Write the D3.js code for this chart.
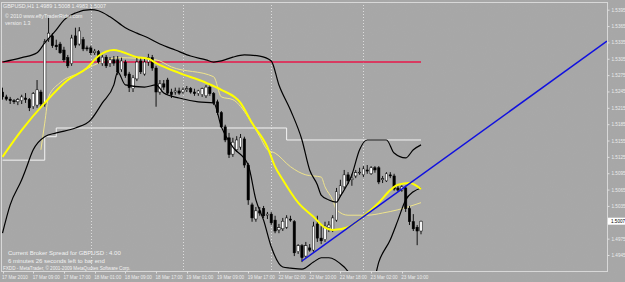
<!DOCTYPE html>
<html>
<head>
<meta charset="utf-8">
<script src="https://cdn.jsdelivr.net/npm/d3@7/dist/d3.min.js"></script>
<style>
  html, body { margin: 0; padding: 0; background: #a6a6a6; }
  svg { display: block; font-family: "Liberation Sans", Arial, sans-serif; }
</style>
</head>
<body>
<svg id="chart" width="625" height="282"></svg>
<script>
// GBPUSD H1 bars, 17 Mar 2010 01:00 onwards
var opens = [1.5244,1.5235,1.5231,1.5228,1.5226,1.5228,1.5233,1.5230,1.5217,1.5220,
  1.5244,1.5222,1.5340,1.5347,1.5330,1.5332,1.5321,1.5307,1.5296,1.5347,
  1.5332,1.5340,1.5325,1.5325,1.5316,1.5318,1.5296,1.5308,1.5296,1.5303,
  1.5303,1.5285,1.5299,1.5277,1.5250,1.5268,1.5301,1.5277,1.5299,1.5307,
  1.5288,1.5244,1.5259,1.5266,1.5244,1.5244,1.5246,1.5244,1.5248,1.5250,
  1.5244,1.5241,1.5239,1.5237,1.5253,1.5241,1.5226,1.5206,1.5180,1.5160,
  1.5130,1.5138,1.5143,1.5158,1.5110,1.5037,1.5011,1.5026,1.5030,1.5018,
  1.5020,1.5009,1.4991,1.4993,1.4996,1.5011,1.5006,1.4951,1.4962,1.4943,
  1.4958,1.4954,1.5002,1.4976,1.4973,1.4995,1.4991,1.5009,1.5055,1.5070,
  1.5092,1.5083,1.5090,1.5096,1.5092,1.5101,1.5094,1.5105,1.5105,1.5083,
  1.5081,1.5092,1.5090,1.5068,1.5064,1.5068,1.5030,1.5006,1.4996,1.4989];
var highs = [1.5252,1.5239,1.5235,1.5231,1.5233,1.5239,1.5242,1.5233,1.5244,1.5266,
  1.5248,1.5341,1.5380,1.5352,1.5340,1.5336,1.5327,1.5312,1.5349,1.5362,
  1.5363,1.5345,1.5329,1.5329,1.5323,1.5321,1.5312,1.5312,1.5308,1.5310,
  1.5310,1.5307,1.5303,1.5281,1.5275,1.5307,1.5308,1.5307,1.5314,1.5312,
  1.5292,1.5266,1.5266,1.5270,1.5250,1.5252,1.5252,1.5252,1.5255,1.5253,
  1.5250,1.5248,1.5252,1.5257,1.5257,1.5244,1.5230,1.5209,1.5184,1.5169,
  1.5160,1.5163,1.5167,1.5162,1.5114,1.5041,1.5033,1.5033,1.5035,1.5024,
  1.5024,1.5017,1.5002,1.5013,1.5018,1.5017,1.5009,1.4965,1.4965,1.4969,
  1.4965,1.5006,1.5017,1.4998,1.5006,1.5007,1.5018,1.5068,1.5083,1.5101,
  1.5097,1.5094,1.5101,1.5105,1.5108,1.5110,1.5108,1.5108,1.5108,1.5090,
  1.5097,1.5097,1.5094,1.5072,1.5073,1.5072,1.5035,1.5020,1.5000,1.5008];
var lows = [1.5230,1.5228,1.5222,1.5222,1.5220,1.5222,1.5224,1.5209,1.5213,1.5215,
  1.5217,1.5217,1.5336,1.5325,1.5321,1.5314,1.5299,1.5288,1.5292,1.5325,
  1.5329,1.5319,1.5319,1.5312,1.5312,1.5296,1.5292,1.5288,1.5290,1.5292,
  1.5275,1.5281,1.5270,1.5244,1.5244,1.5264,1.5277,1.5274,1.5292,1.5283,
  1.5217,1.5239,1.5248,1.5239,1.5233,1.5239,1.5239,1.5241,1.5244,1.5241,
  1.5237,1.5237,1.5235,1.5233,1.5237,1.5220,1.5202,1.5178,1.5152,1.5123,
  1.5125,1.5134,1.5138,1.5105,1.5037,1.5006,1.5006,1.5017,1.5013,1.5011,
  1.5000,1.4985,1.4985,1.4989,1.4993,1.5006,1.4943,1.4947,1.4932,1.4940,
  1.4951,1.4951,1.4969,1.4965,1.4969,1.4987,1.4987,1.5006,1.5052,1.5066,
  1.5075,1.5072,1.5086,1.5092,1.5088,1.5094,1.5092,1.5096,1.5075,1.5077,
  1.5079,1.5086,1.5063,1.5061,1.5061,1.5024,1.5000,1.4989,1.4963,1.4983];
var closes = [1.5235,1.5231,1.5228,1.5226,1.5230,1.5235,1.5230,1.5215,1.5241,1.5248,
  1.5222,1.5336,1.5352,1.5329,1.5327,1.5316,1.5303,1.5292,1.5343,1.5330,
  1.5356,1.5323,1.5323,1.5316,1.5319,1.5299,1.5308,1.5292,1.5303,1.5297,
  1.5281,1.5301,1.5274,1.5252,1.5270,1.5299,1.5281,1.5299,1.5307,1.5288,
  1.5244,1.5259,1.5253,1.5242,1.5239,1.5246,1.5242,1.5248,1.5250,1.5244,
  1.5241,1.5246,1.5250,1.5253,1.5241,1.5224,1.5206,1.5180,1.5156,1.5129,
  1.5152,1.5156,1.5160,1.5110,1.5046,1.5013,1.5026,1.5022,1.5017,1.5020,
  1.5004,1.4989,1.4995,1.5007,1.5013,1.5009,1.4949,1.4962,1.4940,1.4962,
  1.4954,1.4998,1.4976,1.4971,1.4998,1.5000,1.5013,1.5061,1.5072,1.5092,
  1.5081,1.5086,1.5096,1.5097,1.5103,1.5099,1.5105,1.5101,1.5079,1.5085,
  1.5094,1.5090,1.5066,1.5064,1.5070,1.5030,1.5006,1.4993,1.4989,1.5007];

// indicator lines, [bar, price]
var upperBand = [[0,1.5299],[5,1.5307],[9,1.5316],[11,1.5334],[14,1.5358],[16,1.5376],[19,1.5389],
  [23,1.5395],[25,1.5393],[28,1.5382],[32,1.5362],[35,1.5352],[38,1.5343],[41,1.5332],[45,1.5321],
  [49,1.5310],[53,1.5303],[55,1.5299],[57,1.5301],[60,1.5308],[63,1.5312],[67,1.5310],[70,1.5301],
  [72,1.5257],[75,1.5211],[78,1.5156],[80,1.5101],[82,1.5074],[83,1.5055],[85,1.5046],[87,1.5042],
  [88,1.5053],[91,1.5092],[93,1.5138],[95,1.5156],[100,1.5156],[102,1.5132],[105,1.5123],
  [107,1.5138],[109,1.5147]];
var lowerBand = [[0,1.4985],[2,1.5037],[5,1.5083],[6,1.5101],[8,1.5138],[11,1.5162],[14,1.5169],
  [19,1.5178],[23,1.5193],[26,1.5224],[29,1.5257],[30,1.5281],[32,1.5257],[37,1.5253],[40,1.5257],
  [42,1.5242],[46,1.5233],[51,1.5226],[55,1.5224],[57,1.5180],[60,1.5143],[64,1.5110],[66,1.5046],
  [68,1.5009],[70,1.4960],[73,1.4923],[75,1.4921],[78,1.4919],[81,1.4932],[83,1.4940],[85,1.4940],
  [89,1.4923],[91,1.4908],[94,1.4903],[97,1.4908],[98,1.4932],[101,1.4973],[103,1.5009],
  [105,1.5046],[107,1.5061],[109,1.5068]];
var maFast = [[0,1.5125],[5,1.5174],[11,1.5224],[17,1.5266],[22,1.5288],[25,1.5310],[29,1.5321],
  [31,1.5318],[35,1.5308],[38,1.5305],[40,1.5297],[46,1.5279],[53,1.5261],[57,1.5248],[62,1.5224],
  [65,1.5187],[69,1.5143],[71,1.5107],[73,1.5083],[77,1.5041],[81,1.5015],[84,1.4995],[86,1.4991],
  [90,1.4996],[95,1.5022],[98,1.5041],[101,1.5064],[103,1.5074],[106,1.5077],[109,1.5066]];
var maSlow = [[10,1.5138],[11,1.5187],[12,1.5235],[15,1.5261],[20,1.5279],[25,1.5297],[30,1.5307],
  [40,1.5303],[44,1.5290],[55,1.5272],[57,1.5235],[60,1.5230],[64,1.5198],[67,1.5162],[69,1.5138],
  [71,1.5132],[75,1.5107],[79,1.5092],[83,1.5088],[84,1.5070],[86,1.5046],[87,1.5028],[90,1.5018],
  [95,1.5018],[99,1.5022],[103,1.5028],[109,1.5041]];
var dailyLevel = [[0,1.5119],[11,1.5162],[14,1.5178],[74,1.5156],[109,1.5156]];
var redLevel = 1.5299;
var trendPoints = [[78,1.4934],[104,1.5066]];

var priceTicks = [1.5395,1.5365,1.5335,1.5305,1.5275,1.5245,1.5215,1.5185,
  1.5155,1.5125,1.5095,1.5065,1.5035,1.5005,1.4975,1.4945];
var gridBars = [23,47,70,94];
var timeBars = [0,8,16,24,32,40,48,56,64,72,80,88,96,104];
var timeLabels = ["17 Mar 2010","17 Mar 09:00","17 Mar 17:00","18 Mar 01:00","18 Mar 09:00",
  "18 Mar 17:00","19 Mar 01:00","19 Mar 09:00","19 Mar 17:00","22 Mar 02:00","22 Mar 10:00",
  "22 Mar 18:00","23 Mar 02:00","23 Mar 10:00"];
var titleText = "GBPUSD,H1  1.4989 1.5008 1.4983 1.5007";
var infoLines = ["Current Broker Spread for GBPUSD : 4.00", "6 minutes 26 seconds left to bar end"];
var footerText = "FXDD - MetaTrader, \u00a9 2001-2009 MetaQuotes Software Corp.";

var W = 625, H = 282;
var plotL = 1, plotT = 2, plotR = 607, plotB = 271;

var svg = d3.select("#chart");
var bars = d3.range(opens.length).map(function(i) {
    return {i: i, o: opens[i], h: highs[i], l: lows[i], c: closes[i]};
});

var x = d3.scaleLinear().domain([0, bars.length - 1]).range([2.5, 421]);
var y = d3.scaleLinear().domain([1.5395, 1.4945]).range([9.7, 255]);

var defs = svg.append("defs");
defs.append("clipPath").attr("id", "plot")
    .append("rect").attr("x", plotL).attr("y", plotT)
    .attr("width", plotR - plotL).attr("height", plotB - plotT);

// speckle like the dithered gif background
var grain = defs.append("filter").attr("id", "grain")
    .attr("x", 0).attr("y", 0).attr("width", "100%").attr("height", "100%");
grain.append("feTurbulence").attr("type", "fractalNoise")
    .attr("baseFrequency", 0.95).attr("numOctaves", 1).attr("seed", 3).attr("result", "n");
grain.append("feColorMatrix").attr("type", "matrix")
    .attr("values", "0 0 0 0 0.45  0 0 0 0 0.45  0 0 0 0 0.45  1.6 0 0 0 -0.85");

svg.append("rect").attr("width", W).attr("height", H).attr("fill", "#a7a7a7");
svg.append("rect").attr("width", W).attr("height", H).attr("filter", "url(#grain)").attr("opacity", 0.35);

// day separators
svg.append("g").selectAll("line").data(gridBars).enter().append("line")
    .attr("x1", function(d) { return Math.round(x(d)) + 0.5; })
    .attr("x2", function(d) { return Math.round(x(d)) + 0.5; })
    .attr("y1", plotT).attr("y2", plotB)
    .attr("stroke", "#dcdcdc").attr("stroke-width", 1).attr("stroke-dasharray", "1,2");

var plot = svg.append("g").attr("clip-path", "url(#plot)");

var line = d3.line()
    .x(function(d) { return x(d[0]); })
    .y(function(d) { return y(d[1]); })
    .curve(d3.curveMonotoneX);

// white daily level
plot.append("path").datum(dailyLevel)
    .attr("d", d3.line().x(function(d) { return x(d[0]); }).y(function(d) { return y(d[1]); })
        .curve(d3.curveStepAfter))
    .attr("fill", "none").attr("stroke", "#f4f4f4").attr("stroke-width", 1);

// red level
plot.append("line")
    .attr("x1", plotL).attr("x2", x(bars.length - 1))
    .attr("y1", y(redLevel)).attr("y2", y(redLevel))
    .attr("stroke", "#e8174a").attr("stroke-width", 1.5);

plot.append("path").datum(maSlow).attr("d", line)
    .attr("fill", "none").attr("stroke", "#efe48c").attr("stroke-width", 1);

// candles
var candle = plot.append("g").selectAll("g").data(bars).enter().append("g");
candle.append("line")
    .attr("x1", function(d) { return x(d.i); }).attr("x2", function(d) { return x(d.i); })
    .attr("y1", function(d) { return y(d.h); }).attr("y2", function(d) { return y(d.l); })
    .attr("stroke", "#000").attr("stroke-width", 0.9);
candle.append("rect")
    .attr("x", function(d) { return x(d.i) - 1.2; })
    .attr("width", 2.4)
    .attr("y", function(d) { return y(Math.max(d.o, d.c)); })
    .attr("height", function(d) { return Math.max(0.8, Math.abs(y(d.o) - y(d.c))); })
    .attr("fill", function(d) { return d.c >= d.o ? "#ffffff" : "#000000"; })
    .attr("stroke", "#000").attr("stroke-width", 0.5);

plot.append("path").datum(upperBand).attr("d", line)
    .attr("fill", "none").attr("stroke", "#000").attr("stroke-width", 1.2);
plot.append("path").datum(lowerBand).attr("d", line)
    .attr("fill", "none").attr("stroke", "#000").attr("stroke-width", 1.2);
plot.append("path").datum(maFast).attr("d", line)
    .attr("fill", "none").attr("stroke", "#ffff00").attr("stroke-width", 2);

// trend line, extended to the right edge
var t0 = trendPoints[0], t1 = trendPoints[1];
var slope = (t1[1] - t0[1]) / (t1[0] - t0[0]);
var endBar = x.invert(plotR);
plot.append("line")
    .attr("x1", x(t0[0])).attr("y1", y(t0[1]))
    .attr("x2", x(endBar)).attr("y2", y(t0[1] + slope * (endBar - t0[0])))
    .attr("stroke", "#1010e0").attr("stroke-width", 1.5);

// frame
svg.append("rect").attr("x", plotL + 0.5).attr("y", plotT + 0.5)
    .attr("width", plotR - plotL).attr("height", plotB - plotT)
    .attr("fill", "none").attr("stroke", "#d8d8d8").attr("stroke-width", 1);

// price axis
var yAxis = svg.append("g").attr("transform", "translate(" + (plotR + 0.5) + ",0)")
    .call(d3.axisRight(y).tickValues(priceTicks).tickFormat(d3.format(".4f")).tickSize(2).tickPadding(2));
yAxis.select(".domain").remove();
yAxis.selectAll("line").attr("stroke", "#e0e0e0");
yAxis.selectAll("text").attr("fill", "#ececec").attr("font-size", 4.6)
    .attr("font-family", "Liberation Sans, Arial, sans-serif");

// current price box
var last = bars[bars.length - 1];
var box = svg.append("g").attr("transform", "translate(" + (plotR + 1) + "," + y(last.c) + ")");
box.append("rect").attr("x", 0).attr("y", -3.5).attr("width", 17).attr("height", 7).attr("fill", "#ffffff");
box.append("text").attr("x", 3).attr("y", 1.8).attr("font-size", 4.6).attr("fill", "#000")
    .text(d3.format(".4f")(last.c));

// time axis
var tAxis = svg.append("g").attr("transform", "translate(0," + (plotB + 0.5) + ")");
tAxis.selectAll("line").data(timeBars).enter().append("line")
    .attr("x1", function(d) { return Math.round(x(d)) + 0.5; })
    .attr("x2", function(d) { return Math.round(x(d)) + 0.5; })
    .attr("y1", 0).attr("y2", 2).attr("stroke", "#e0e0e0");
tAxis.selectAll("text").data(timeBars).enter().append("text")
    .attr("x", function(d) { return x(d) - 0.5; })
    .attr("y", 7.5)
    .attr("font-size", 4.6).attr("fill", "#ececec")
    .text(function(d, k) { return timeLabels[k]; });

// texts on the chart
svg.append("text").attr("x", 3).attr("y", 8).attr("font-size", 5.4).attr("fill", "#f0f0f0").text(titleText);
svg.append("text").attr("x", 5).attr("y", 18).attr("font-size", 5.2).attr("fill", "#f0f0f0")
    .text("\u00a9 2010 www.effyTraderRider.com");
svg.append("text").attr("x", 5).attr("y", 25).attr("font-size", 5.2).attr("fill", "#f0f0f0").text("version 1.3");

svg.append("g").selectAll("text").data(infoLines).enter().append("text")
    .attr("x", 8).attr("y", function(d, k) { return 255 + k * 8; })
    .attr("font-size", 6).attr("fill", "#f2f2f2")
    .text(function(d) { return d; });
svg.append("text").attr("x", 3).attr("y", 269.5).attr("font-size", 4.6).attr("fill", "#f2f2f2").text(footerText);
</script>
</body>
</html>
